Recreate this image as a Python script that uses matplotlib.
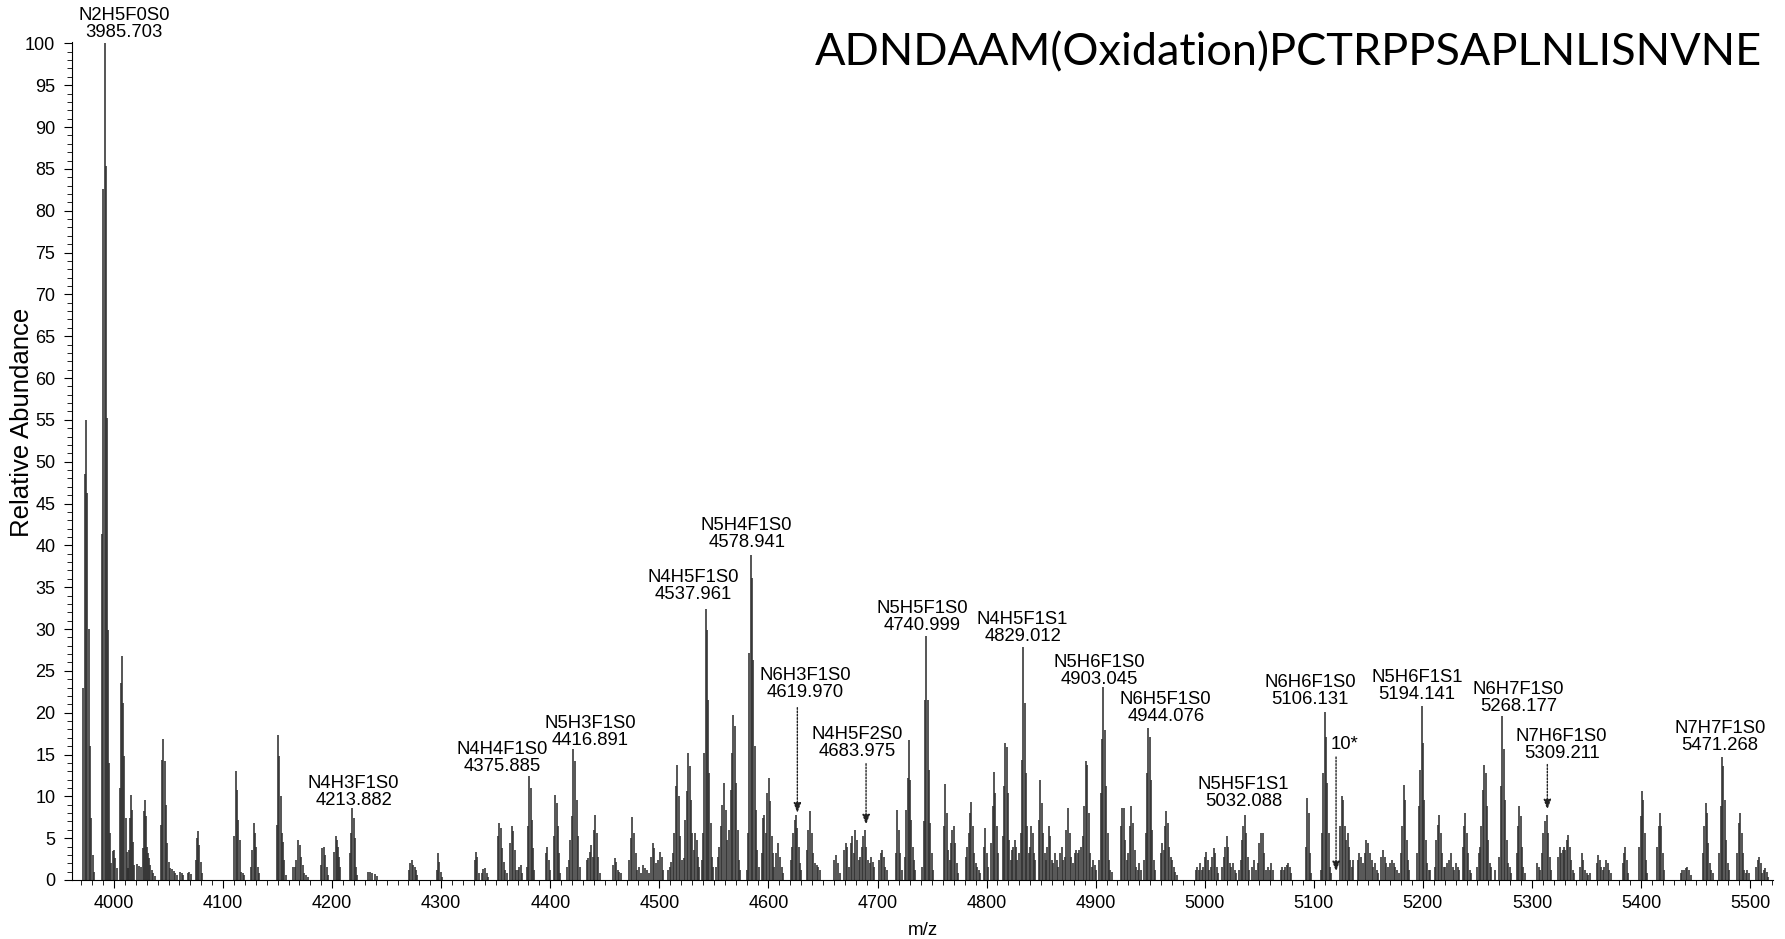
import numpy as np
import matplotlib
matplotlib.use("Agg")
import matplotlib.pyplot as plt
from matplotlib.ticker import MultipleLocator

plt.rcParams['font.family'] = ['Liberation Sans', 'DejaVu Sans']

# isotope clusters: first / last stick m/z and stick heights (relative abundance)
peak_start = [3971.9, 3989.3, 3998.8, 4005.5, 4013.1, 4020.8, 4026.9, 4034.4, 4042.8, 4053.2,
              4060.5, 4067.8, 4074.9, 4110.3, 4125.3, 4149.2, 4164.4, 4189.8, 4202.0, 4216.4,
              4232.9, 4270.6, 4296.4, 4331.0, 4337.0, 4351.8, 4363.3, 4378.9, 4396.1, 4403.4,
              4415.6, 4433.3, 4457.8, 4472.4, 4483.2, 4492.3, 4508.2, 4522.6, 4539.1, 4551.9,
              4564.1, 4580.1, 4593.8, 4607.0, 4620.4, 4635.0, 4660.0, 4669.5, 4675.4, 4701.6,
              4717.0, 4725.2, 4741.1, 4761.0, 4780.8, 4797.6, 4804.3, 4814.8, 4831.3, 4843.5,
              4847.8, 4862.8, 4888.1, 4903.4, 4923.0, 4944.6, 4959.6, 4992.0, 5016.1, 5031.7,
              5043.7, 5069.9, 5092.9, 5106.3, 5124.3, 5140.3, 5161.6, 5180.0, 5194.9, 5211.1,
              5224.2, 5236.5, 5250.0, 5262.5, 5270.2, 5286.0, 5304.9, 5324.1, 5344.1, 5359.3,
              5383.2, 5398.4, 5414.9, 5436.4, 5456.6, 5471.8, 5488.3, 5505.4]
peak_end = [3981.7, 3997.5, 4002.5, 4012.6, 4018.3, 4024.7, 4033.3, 4037.6, 4051.3, 4057.8,
            4063.3, 4070.6, 4080.7, 4119.2, 4133.2, 4157.3, 4177.5, 4196.2, 4207.5, 4223.1,
            4241.1, 4278.0, 4300.4, 4334.3, 4343.1, 4360.0, 4374.3, 4385.0, 4399.7, 4409.2,
            4426.9, 4445.5, 4464.8, 4481.0, 4490.2, 4503.6, 4520.7, 4536.6, 4549.2, 4562.3,
            4574.2, 4591.1, 4605.4, 4613.8, 4630.1, 4647.3, 4665.5, 4673.9, 4697.0, 4708.4,
            4722.1, 4734.6, 4750.8, 4773.8, 4794.0, 4801.6, 4810.5, 4829.4, 4842.3, 4844.7,
            4861.2, 4886.6, 4900.3, 4914.7, 4941.3, 4954.4, 4974.2, 5012.2, 5028.7, 5040.6,
            5062.6, 5079.4, 5097.8, 5116.0, 5136.2, 5159.2, 5178.1, 5187.6, 5206.5, 5221.8,
            5233.4, 5244.1, 5261.2, 5266.1, 5280.9, 5293.3, 5317.7, 5338.5, 5353.2, 5372.2,
            5388.0, 5405.7, 5421.0, 5445.5, 5465.7, 5480.7, 5498.7, 5516.7]
peak_heights = [
    [23, 48.5, 55, 46.3, 30, 16, 7.4, 3, 1],
    [41.4, 82.6, 100, 85.3, 55.2, 29.9, 14, 5.6, 2],
    [3.5, 3.6, 2.6, 1.4],
    [11, 23.6, 26.8, 21.1, 14.8, 7.4, 3.4, 1.4],
    [1.4, 3.6, 7.4, 10.2, 8.4, 4.6, 1.8],
    [1.9, 1.7, 1.5],
    [3.8, 8.2, 9.6, 7.6, 4, 3.2, 2.6, 1.8],
    [1.2, 0.8, 0.5],
    [6.6, 14.4, 16.9, 14.2, 9, 4.4, 2.2, 1.4],
    [1.3, 1.1, 0.8, 0.6],
    [0.9, 0.8, 0.6],
    [0.8, 1.0, 0.7],
    [2.4, 5, 5.8, 4.2, 2.2, 0.8],
    [5.2, 13, 10.8, 7.2, 4.8, 1, 0.8, 0.6],
    [1.6, 3.6, 6.8, 5.6, 4, 1.6, 0.8],
    [6.6, 17.3, 14.8, 10, 5.6, 4.6, 2.4, 0.6],
    [1.6, 1.6, 2.4, 4.8, 4.2, 2.8, 1.8, 0.8, 0.6, 0.4],
    [1.8, 3.8, 4, 3, 1.5, 0.6],
    [3.4, 5.2, 4.8, 4, 2.8, 1.6],
    [3.2, 5.6, 8.6, 7.4, 5, 1.6, 0.6],
    [1.0, 0.9, 0.8, 0.7, 0.5],
    [1.2, 2, 2.4, 1.8, 1.6, 1.2, 0.6],
    [1.2, 3.2, 2.2, 1, 0.4],
    [2.4, 3.3, 2.8, 0.8],
    [0.8, 1.3, 1.4, 0.8, 0.3],
    [5.2, 6.8, 6.2, 3.8, 2.2, 1.2, 0.8],
    [4.4, 6.4, 5.8, 3.6, 1.2, 1.2, 1.6, 1.8, 0.8],
    [1.6, 6.4, 12.4, 11, 7.2, 3.8, 1.2],
    [3.2, 4, 2.4, 1.2],
    [5.2, 10.2, 9.2, 6.4, 3.2, 0.8],
    [1.6, 2.4, 4.8, 7.6, 15.6, 14.2, 9.6, 5.2, 1.6],
    [2.4, 2.6, 3.4, 4.2, 2.8, 6, 7.8, 5.6, 2.8, 0.8],
    [1.8, 2.6, 2.2, 1.2, 1.0, 0.8],
    [2.4, 5, 7.5, 5.6, 3.2, 1.2, 1.6],
    [0.8, 1.8, 1.4, 1.2, 0.8],
    [2.8, 4.4, 3.8, 2, 2.4, 3.4, 2.8, 1.2],
    [1.2, 1.6, 2.2, 3.2, 5.6, 11.2, 13.8, 10, 5.2, 2.4],
    [2.6, 7.2, 10.6, 15.2, 13.6, 9.6, 5.6, 3.6, 5.6, 4.8, 2.8, 1.6],
    [2.4, 5.6, 15.2, 32.4, 29.9, 21.5, 12.8, 6.8, 2.8, 1.6],
    [1.6, 2.8, 4, 6.4, 9, 11.6, 8.4, 4.8],
    [6, 10.8, 15.2, 19.7, 18.4, 11.6, 6, 2.4, 1.2],
    [1.2, 5.6, 27.1, 38.9, 36.1, 26.3, 16, 8.4, 3.6, 1.6],
    [3.2, 7.4, 7.8, 5.6, 10.4, 12.2, 9.4, 5.2, 3.2, 1.6],
    [3.2, 4.4, 2.8, 1.6, 0.8],
    [2.4, 4, 5.6, 7.2, 7.8, 6.2, 4, 2, 1.2],
    [3.6, 6, 8.2, 5.6, 3.2, 2, 1.8, 1.6, 1.2],
    [2.4, 3, 2, 0.8],
    [3.6, 4.4, 4, 1.6],
    [4.4, 5.2, 3.2, 6, 4.8, 2.4, 2.8, 4, 5.2, 6, 4, 2.4, 2, 2.8, 2.2, 1.6],
    [2.4, 3.2, 3.6, 2.8, 1.6, 1.2],
    [3.2, 8.4, 6, 3.2, 1.2],
    [2.8, 8.4, 12.2, 16.7, 12, 7.2, 4, 2.4, 1.2],
    [1.6, 7, 21.5, 29.2, 21.5, 13.2, 6.8, 3.2, 1.2],
    [6.4, 11.5, 8, 3.6, 2.4, 4.4, 6, 6.4, 4.4, 2, 0.8],
    [2.8, 4, 5.6, 8, 9.3, 6.4, 3.2, 2, 1.6, 1.2, 0.8],
    [4, 6.2, 3.2, 1.6],
    [4.4, 8.8, 12.9, 10.4, 6.4, 3.2],
    [5.2, 11.2, 16.4, 15.9, 10.4, 4.8, 2.4, 3.6, 4, 4.8, 4, 2.4, 3.2],
    [5.6, 14.4, 27.9, 21.1, 12.8, 6.4, 3.2, 4, 6.4, 5.6],
    [3.2, 2.4],
    [7.2, 11.9, 9.2, 5.6, 3.2, 2.4, 4, 6.4, 5.2, 2.4, 2],
    [3.2, 2.4, 1.6, 3.2, 4, 2.4, 2.8, 6, 8.6, 5.6, 2.8, 2, 3.2, 3.6, 3.2, 3.6, 4],
    [5.2, 8.8, 14.2, 13.8, 8, 3.2, 1.6, 2.4, 1.8, 1.2],
    [2.4, 10.4, 16.8, 23.1, 17.9, 11.2, 5.6, 2.4, 1.2, 1],
    [6.4, 8.6, 8.6, 4.8, 2.4, 3.2, 6.4, 8.8, 6.8, 3.6, 1.6, 1.2, 2, 1.2],
    [2.4, 5.6, 12.8, 18.2, 17.1, 12, 6, 2.4, 1.2],
    [3.2, 4.4, 3.6, 6.4, 8.2, 6.8, 4, 2.8, 2.4, 1.6, 1, 0.6],
    [1.2, 1.6, 1.2, 2, 1.2, 1.6, 2.8, 3.4, 2.4, 1.2, 1.6, 2.8, 3.8, 3.2, 1.6, 0.8],
    [1.6, 2.8, 4, 5.2, 4, 2, 1.6, 2, 1.2, 0.8],
    [1.2, 2.4, 4.8, 6.4, 7.8, 5.6, 2.8, 1.2],
    [1.6, 2.4, 1.2, 2, 4.4, 5.6, 5.6, 3.2, 1.2, 1.6, 1.2, 2, 1.2],
    [1.2, 1.6, 1.2, 1.6, 1.8, 2, 1.6, 0.8],
    [4, 9.8, 8, 3.2, 0.8],
    [1.2, 5.6, 12.8, 20.1, 17.1, 11.6, 5.6, 1.6, 0.8],
    [6.4, 10, 9.6, 6.4, 4.8, 5.6, 4, 2.4, 1.6, 2.4],
    [2.4, 3.2, 2.8, 2, 3.2, 4.8, 4.4, 3.2, 2.4, 1.6, 2, 1.2, 0.8],
    [2.8, 3.6, 2.8, 2, 1.6, 2, 2.4, 2, 1.6, 1.2, 0.8],
    [3.2, 6.4, 11.4, 9.6, 4.8, 2.4, 1.2],
    [3.2, 8.8, 13.2, 20.8, 16.4, 9.6, 4.8, 2, 1.2, 1.2],
    [1.6, 4.8, 6.6, 7.8, 5.6, 3.2, 1.6, 1.6, 2],
    [2.4, 3.2, 1.6, 1.2, 2, 1.6, 1.2],
    [4, 6.4, 8, 5.6, 3.2, 1.2, 0.8],
    [1.6, 3.2, 4, 6.4, 10.8, 13.8, 12.8, 8.8, 4.8, 2],
    [1.6, 1.2],
    [2.8, 11.2, 19.6, 15.6, 9.6, 4.8, 2, 1.6, 0.8],
    [3.2, 6.4, 8.8, 7.6, 4, 1.6, 0.8],
    [2, 1.6, 1.2, 3.2, 5.6, 7, 7.8, 5.6, 2.8, 1.2],
    [2.8, 4, 3.2, 3.6, 4, 3.6, 4.8, 5.4, 4, 2.4, 1.2, 0.8],
    [1.6, 3.2, 2.4, 1.2, 0.8, 0.6, 0.8],
    [2, 3, 2.4, 1.6, 1.2, 1.6, 2.4, 2, 1.2, 0.8],
    [2, 3.2, 4, 2.4, 0.8],
    [4, 7.6, 10.6, 9.6, 5.6, 2.4, 0.8],
    [4, 6.4, 8, 6.4, 3.2, 1.2],
    [0.8, 1.2, 1.2, 1.4, 1.6, 1.2, 0.6],
    [3.2, 6.4, 9.2, 8, 4.4, 2, 1.2, 0.8],
    [3.2, 8.8, 14.7, 13.6, 9.6, 4.8, 2, 1.2],
    [3.2, 6.8, 8, 5.6, 3.2, 1.2, 0.8, 1.2, 0.8],
    [1.6, 2.4, 2.8, 2, 0.8, 1.2, 1.4, 1, 0.4],
]

# annotations
label_names = ["N2H5F0S0", "N4H3F1S0", "N4H4F1S0", "N5H3F1S0", "N4H5F1S0", "N5H4F1S0",
               "N6H3F1S0", "N4H5F2S0", "N5H5F1S0", "N4H5F1S1", "N5H6F1S0", "N6H5F1S0",
               "N5H5F1S1", "N6H6F1S0", "N5H6F1S1", "N6H7F1S0", "N7H6F1S0", "N7H7F1S0"]
label_mass = ["3985.703", "4213.882", "4375.885", "4416.891", "4537.961", "4578.941",
              "4619.970", "4683.975", "4740.999", "4829.012", "4903.045", "4944.076",
              "5032.088", "5106.131", "5194.141", "5268.177", "5309.211", "5471.268"]
label_x = [4009.2, 4219.6, 4356.2, 4436.4, 4531.1, 4580.1, 4633.5, 4681.7, 4741.3, 4833.0,
           4903.1, 4964.3, 5035.4, 5096.5, 5194.4, 5287.5, 5327.3, 5472.4]
label_y = [100.75, 8.97, 12.95, 16.15, 33.5, 39.8, 21.9, 14.8, 29.8, 28.5,
           23.4, 19.0, 8.77, 21.05, 21.6, 20.2, 14.5, 15.55]

# dotted arrows: x, tail, head
arrow_x = [4626.5, 4689.5, 5120.4, 5314.1]
arrow_tail = [20.6, 13.9, 14.7, 13.8]
arrow_head = [8.0, 6.6, 1.0, 8.4]

title = "ADNDAAM(Oxidation)PCTRPPSAPLNLISNVNE"

fig = plt.figure(figsize=(17.85, 9.39), dpi=100)
ax = fig.add_axes([72 / 1785, 1 - 880 / 939, 1701 / 1785, (880 - 41.7) / 939])

mz_all = []
ab_all = []
for s, e, h in zip(peak_start, peak_end, peak_heights):
    mz_all.extend(np.linspace(s, e, len(h)))
    ab_all.extend(h)
ax.vlines(mz_all, 0, ab_all, colors='#303030', linewidth=1.15)

ax.set_xlim(3961.5, 5521)
ax.set_ylim(0, 100.2)
ax.spines['top'].set_visible(False)
ax.spines['right'].set_visible(False)
ax.xaxis.set_major_locator(MultipleLocator(100))
ax.xaxis.set_minor_locator(MultipleLocator(10))
ax.yaxis.set_major_locator(MultipleLocator(5))
ax.yaxis.set_minor_locator(MultipleLocator(1))
ax.tick_params(which='major', direction='out', length=6, width=0.8, labelsize=13, pad=5)
ax.tick_params(which='minor', direction='out', length=3.5, width=0.6)
ax.tick_params(axis='y', which='major', pad=6)

ax.set_xlabel("m/z", fontsize=13.5)
ax.xaxis.set_label_coords(0.5, -0.05)
ax.set_ylabel("Relative Abundance", fontsize=18.5)
ax.yaxis.set_label_coords(-0.0225, 0.546)

for name, mass, x, y in zip(label_names, label_mass, label_x, label_y):
    ax.text(x, y - 0.45, name + "\n" + mass, ha='center', va='bottom',
            multialignment='center', fontsize=13.3, linespacing=1.0, clip_on=False)

ax.text(5127.7, 15.6 - 0.45, "10*", ha='center', va='bottom', fontsize=13.3)

for x, t, h in zip(arrow_x, arrow_tail, arrow_head):
    ax.annotate("", xy=(x, h), xytext=(x, t),
                arrowprops=dict(arrowstyle='-|>,head_length=0.6,head_width=0.22',
                                linestyle=(0, (1.2, 1.2)), lw=1.0, color='#222222',
                                shrinkA=0, shrinkB=0))

fig.text(1762 / 1785, 1 - 65 / 939, title, ha='right', va='baseline',
         fontsize=32.5, family=['Lato', 'DejaVu Sans'])

fig.savefig("out.png", dpi=100)
